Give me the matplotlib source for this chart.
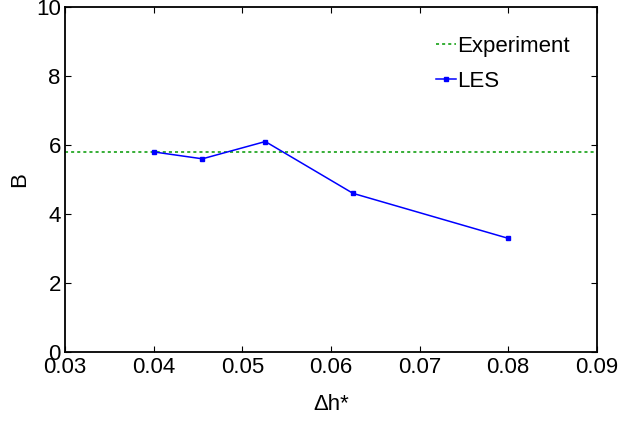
import matplotlib
matplotlib.use("Agg")
import matplotlib.pyplot as plt

# datos
dh = [0.04, 0.0455, 0.0526, 0.0625, 0.08]
B_les = [5.8, 5.6, 6.1, 4.6, 3.3]
B_exp = 5.8

xticks = [0.03, 0.04, 0.05, 0.06, 0.07, 0.08, 0.09]
yticks = [0, 2, 4, 6, 8, 10]

plt.rcParams["font.family"] = ["Liberation Sans", "DejaVu Sans"]
plt.rcParams["font.size"] = 16

fig = plt.figure(figsize=(6.22, 4.21), dpi=100)
ax = fig.add_axes([0.1045, 0.163, 0.855, 0.821])

ax.axhline(B_exp, color="#009900", linestyle=(0, (2, 2)), linewidth=1.1, label="Experiment")
ax.plot(dh, B_les, color="#0000ff", linewidth=1.1, marker="s", markersize=3, label="LES")

ax.set_xlim(0.03, 0.09)
ax.set_ylim(0, 10)
ax.set_xticks(xticks)
ax.set_xticklabels([f"{t:.2f}" for t in xticks])
ax.set_yticks(yticks)
ax.tick_params(direction="in", length=4, width=0.8, top=True, right=True, pad=3)
for s in ax.spines.values():
    s.set_linewidth(1.3)

ax.set_xlabel("\u0394h*", labelpad=11.5)
ax.set_ylabel("B", labelpad=4)

ax.legend(loc="upper right", bbox_to_anchor=(0.97, 0.947), frameon=False,
          borderpad=0, handlelength=0.9, handletextpad=0.05, labelspacing=0.62)

plt.savefig("out.png", dpi=100)
plt.close()
